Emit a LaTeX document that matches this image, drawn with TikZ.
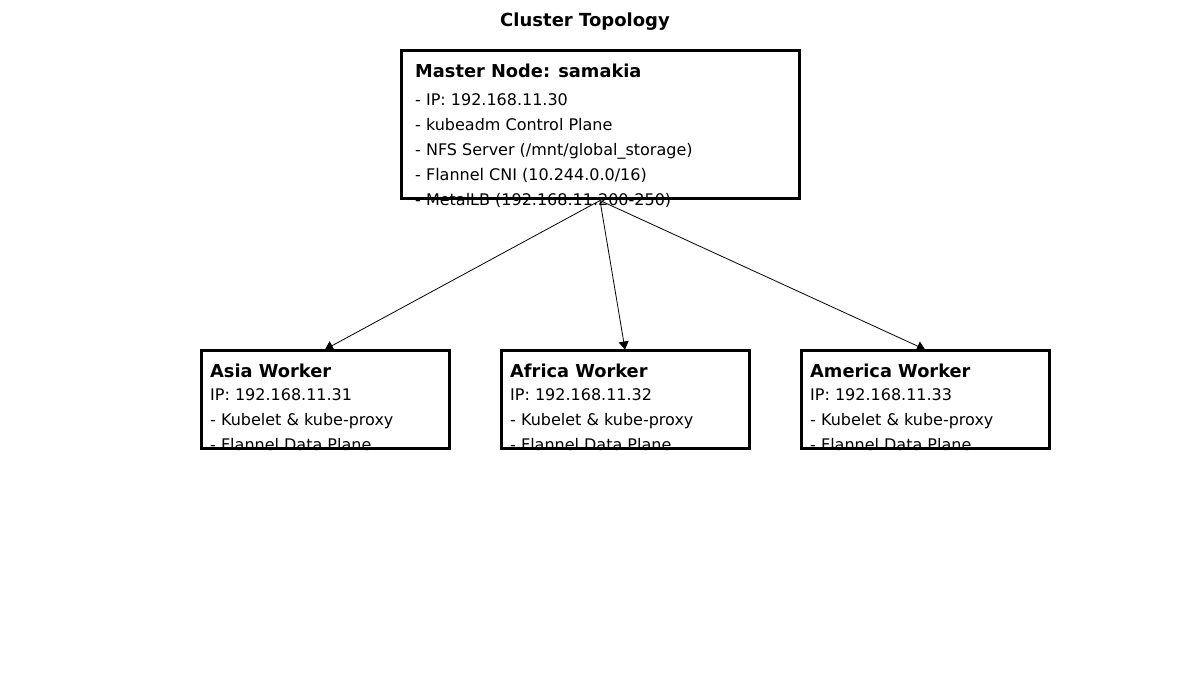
\documentclass[tikz,border=0pt]{standalone}
\usepackage{fontspec}
\setmainfont{DejaVu Sans}
\usetikzlibrary{arrows.meta,positioning}

\begin{document}
\begin{tikzpicture}[x=1pt,y=-1pt]
\useasboundingbox (0,0) rectangle (1200,700);
\tikzset{BoxStyle/.style ={draw, line width=3pt, inner sep=0},
  HeadStyle/.style ={anchor=base west, inner sep=0, font=\fontsize{17.8}{17.8}\selectfont\bfseries},
  LineStyle/.style ={anchor=base west, inner sep=0, font=\fontsize{16}{16}\selectfont},
  EdgeStyle/.style ={-{Triangle[width=10pt,length=8pt]}, line width=0.8pt}}
\node[anchor=base, inner sep=0, font=\fontsize{18}{18}\selectfont\bfseries] (title) at (585,27) {Cluster Topology};
% master text first, the frame goes on top
\node[HeadStyle] (mhead) at (415,78) {Master Node: samakia};
\foreach \txt [count=\i] in {- IP: 192.168.11.30, - kubeadm Control Plane,
  - NFS Server (/mnt/global\_storage), - Flannel CNI (10.244.0.0/16),
  - MetalLB (192.168.11.200-250)}
  \node[LineStyle] (mline\i) at (415,81+25*\i) {\txt};
\node[BoxStyle, minimum width=398pt, minimum height=148pt] (master) at (600,125) {};
% workers
\foreach \name/\where/\x/\ip in {asia/Asia/325/31, africa/Africa/625/32, america/America/925/33}{
  \node[HeadStyle] (\name head) at (\x-115,378) {\where{} Worker};
  \node[LineStyle] (\name ip) at (\x-115,401) {IP: 192.168.11.\ip};
  \node[LineStyle] (\name kube) at (\x-115,426) {- Kubelet \& kube-proxy};
  \node[LineStyle] (\name flannel) at (\x-115,451) {- Flannel Data Plane};
  \node[BoxStyle, minimum width=248pt, minimum height=98pt] (\name) at (\x,400) {};
  \draw[EdgeStyle] (master.south) -- (\name.north);
}
\end{tikzpicture}
\end{document}
